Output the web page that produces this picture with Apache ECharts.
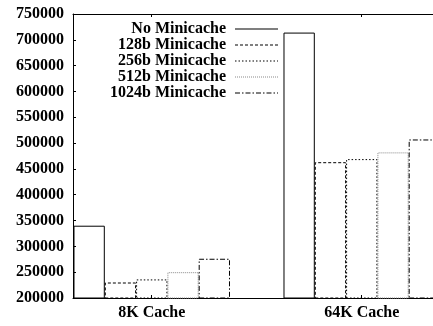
<!DOCTYPE html>
<html>
<head>
<meta charset="utf-8">
<script src="https://cdn.jsdelivr.net/npm/echarts@6/dist/echarts.min.js"></script>
<style>
  html, body { margin: 0; padding: 0; background: #fff; }
  #chart { width: 433px; height: 326px; }
</style>
</head>
<body>
<div id="chart"></div>
<script>
// Cache configurations (group positions 0 and 1 on the x axis)
const categories = ['8K Cache', '64K Cache'];
const seriesNames = ['No Minicache', '128b Minicache', '256b Minicache', '512b Minicache', '1024b Minicache'];
const noMinicache = [340000, 714000];
const minicache128 = [230000, 463000];
const minicache256 = [236000, 469000];
const minicache512 = [250000, 482000];
const minicache1024 = [276000, 507000];
const yTicks = [200000, 250000, 300000, 350000, 400000, 450000, 500000, 550000, 600000, 650000, 700000, 750000];

const seriesValues = [noMinicache, minicache128, minicache256, minicache512, minicache1024];

// Line look for each series: border colour and dash pattern
const lineStyles = [
  { color: '#000', dash: null },
  { color: '#000', dash: [3, 2] },
  { color: '#000', dash: [1.5, 2] },
  { color: '#888', dash: [1, 1] },
  { color: '#000', dash: [5, 2, 1.5, 2] }
];

const FONT = '"Liberation Serif", "Times New Roman", serif';
const ICON_W = 43;

// Build a legend icon path that repeats a dash pattern along a 1-unit tall strip
function dashIcon(dash) {
  if (!dash) return 'path://M0,0h' + ICON_W + 'v1h-' + ICON_W + 'z';
  let x = 0, i = 0, d = '';
  while (x < ICON_W) {
    const len = dash[i % dash.length];
    if (i % 2 === 0) {
      const w = Math.min(len, ICON_W - x);
      d += 'M' + x + ',0h' + w + 'v1h-' + w + 'z';
    }
    x += len;
    i++;
  }
  // keep the full width so the icon is not rescaled
  d += 'M' + ICON_W + ',0h0.001v1h-0.001z';
  return 'path://' + d;
}

const series = seriesNames.map((name, s) => ({
  name: name,
  type: 'bar',
  barWidth: 31.3,
  barGap: '0%',
  data: categories.map((c, i) => [i, seriesValues[s][i]]),
  itemStyle: {
    color: 'rgba(0,0,0,0)',
    borderColor: lineStyles[s].color,
    borderWidth: 1,
    borderType: lineStyles[s].dash || 'solid'
  },
  emphasis: { disabled: true },
  animation: false
}));

const chart = echarts.init(document.getElementById('chart'), null, { renderer: 'canvas' });

const xMin = -0.375;
const xMax = 1.3393;

chart.setOption({
  animation: false,
  backgroundColor: '#fff',
  grid: { left: 73, right: 0, top: 14, bottom: 28 },
  legend: {
    orient: 'vertical',
    align: 'right',
    right: 150,
    top: 16,
    itemWidth: ICON_W,
    itemHeight: 1,
    itemGap: 0,
    selectedMode: false,
    textStyle: {
      fontFamily: FONT,
      fontWeight: 'bold',
      fontSize: 16,
      lineHeight: 16,
      color: '#000',
      padding: [0, 4, 0, 0]
    },
    data: seriesNames.map((name, s) => ({
      name: name,
      icon: dashIcon(lineStyles[s].dash),
      itemStyle: { color: lineStyles[s].color, borderWidth: 0, opacity: 1 }
    }))
  },
  xAxis: [
    {
      type: 'value',
      position: 'bottom',
      min: xMin,
      max: xMax,
      splitLine: { show: false },
      axisLine: { show: true, onZero: false, lineStyle: { color: '#000', width: 1 } },
      axisTick: { show: true, inside: true, length: 3, customValues: [0, 1], lineStyle: { color: '#000' } },
      axisLabel: {
        show: true,
        customValues: [0, 1],
        formatter: v => categories[Math.round(v)] || '',
        fontFamily: FONT,
        fontWeight: 'bold',
        fontSize: 16,
        color: '#000',
        margin: 7
      }
    },
    {
      type: 'value',
      position: 'top',
      min: xMin,
      max: xMax,
      splitLine: { show: false },
      axisLine: { show: true, onZero: false, lineStyle: { color: '#000', width: 1 } },
      axisTick: { show: true, inside: true, length: 3, customValues: [0, 1], lineStyle: { color: '#000' } },
      axisLabel: { show: false }
    }
  ],
  yAxis: {
    type: 'value',
    min: yTicks[0],
    max: yTicks[yTicks.length - 1],
    interval: yTicks[1] - yTicks[0],
    splitLine: { show: false },
    axisLine: { show: true, onZero: false, lineStyle: { color: '#000', width: 1 } },
    axisTick: { show: true, inside: true, length: 3, lineStyle: { color: '#000' } },
    axisLabel: {
      formatter: v => String(v),
      fontFamily: FONT,
      fontWeight: 'bold',
      fontSize: 16,
      color: '#000',
      margin: 9
    }
  },
  series: series
});
</script>
</body>
</html>
